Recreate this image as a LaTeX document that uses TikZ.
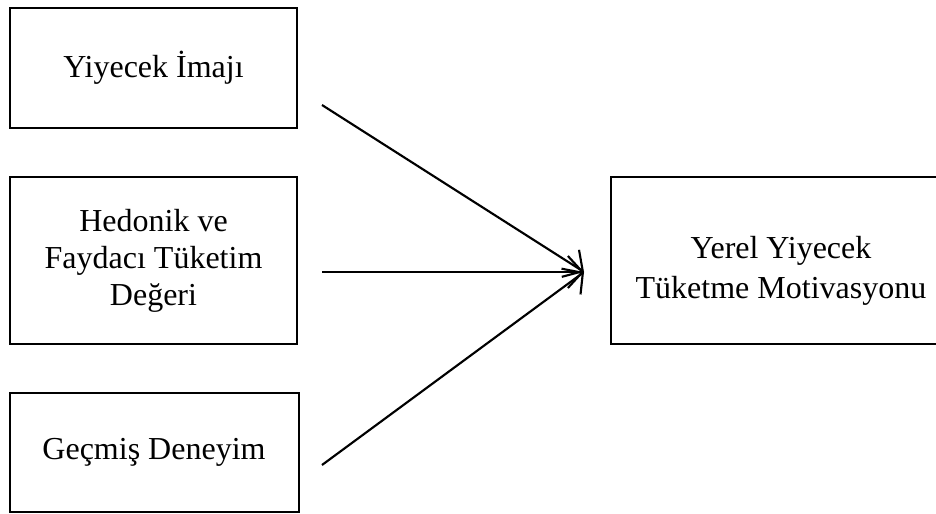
\documentclass[tikz,border=0pt]{standalone}
\usepackage{fontspec}
\setmainfont{Liberation Serif}
\usetikzlibrary{arrows.meta}
\begin{document}
\begin{tikzpicture}[x=0.75pt,y=-0.75pt,
  box/.style={draw, line width=1.5pt, align=center, inner sep=0pt,
    font=\fontsize{24}{27.75}\selectfont},
  link/.style={line width=1.6pt, -{Straight Barb[length=11pt,width=24pt,line width=1.6pt]}}]
  \clip (0,0) rectangle (936,514);
  % predictor boxes
  \node[box, minimum width=215.25pt, minimum height=90pt] (image) at (153.5,68) {Yiyecek İmajı};
  \node[box, minimum width=215.25pt, minimum height=125.25pt] (value) at (153.5,260.5) {Hedonik ve\\Faydacı Tüketim\\Değeri};
  \node[box, minimum width=216.75pt, minimum height=89.25pt] (past) at (154,452.5) {Geçmiş Deneyim};
  % outcome box (runs past the right margin)
  \node[box, minimum width=255pt, minimum height=125.25pt] (motive) at (781,260.5) {\rule{0pt}{32pt}Yerel Yiyecek\\[2pt]Tüketme Motivasyonu};
  % arrow ends
  \coordinate (s1) at (322,105);
  \coordinate (s2) at (322,272);
  \coordinate (s3) at (322,465);
  \coordinate (tip) at (584,272);
  \draw[link] (s1) -- (tip);
  \draw[link] (s2) -- (tip);
  \draw[link] (s3) -- (tip);
\end{tikzpicture}
\end{document}
